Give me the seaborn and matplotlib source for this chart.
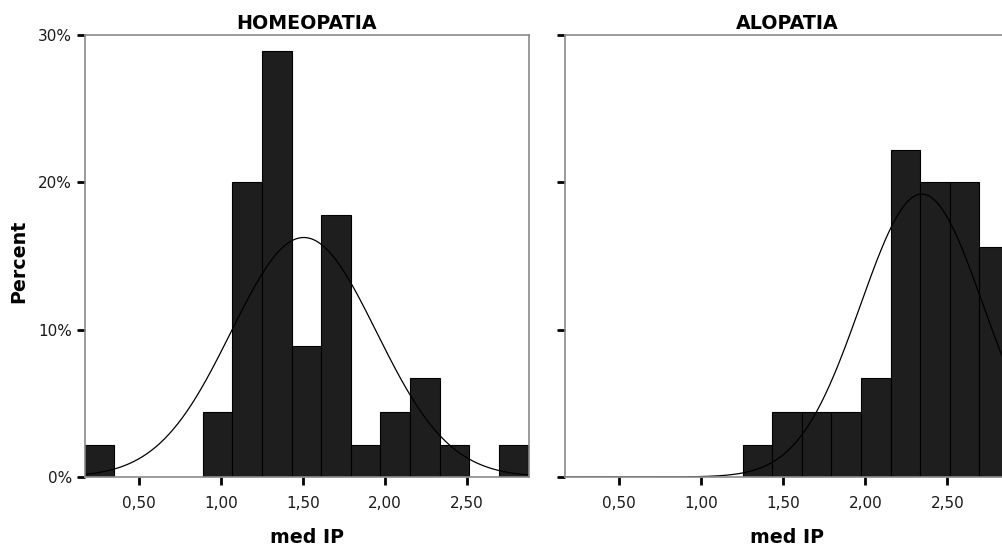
import numpy as np
import pandas as pd
import matplotlib
matplotlib.use("Agg")
import matplotlib.pyplot as plt
import seaborn as sns

# Histogram of "med IP" per treatment group (percent of cases per bin)
GROUPS = ["HOMEOPATIA", "ALOPATIA"]
HOMEO_PCT = [2.2, 0, 0, 0, 4.4, 20.0, 28.9, 8.9, 17.8, 2.2, 4.4, 6.7, 2.2, 0, 2.2]
ALO_PCT = [0, 0, 0, 0, 0, 0, 2.2, 4.4, 4.4, 4.4, 6.7, 22.2, 20.0, 20.0, 15.6]

# Fitted normal curves (mean, standard deviation) per group
HOMEO_NORMAL = (1.506, 0.443)
ALO_NORMAL = (2.345, 0.375)

BIN_START = 0.169
BIN_WIDTH = 0.1805
N_BINS = 15

X_TICKS = [0.5, 1.0, 1.5, 2.0, 2.5]
X_TICK_LABELS = ["0,50", "1,00", "1,50", "2,00", "2,50"]
Y_TICKS = [0, 10, 20, 30]
Y_TICK_LABELS = ["0%", "10%", "20%", "30%"]

sns.set_style("white")
plt.rcParams["font.family"] = ["DejaVu Sans"]
plt.rcParams["text.color"] = "black"
plt.rcParams["axes.labelcolor"] = "black"

W, H = 1002, 552
fig = plt.figure(figsize=(W / 100, H / 100), dpi=100)

edges = BIN_START + BIN_WIDTH * np.arange(N_BINS + 1)
centers = (edges[:-1] + edges[1:]) / 2
xlim = (edges[0], edges[-1])

spine_col = "#8a8a8a"
bar_col = "#1e1e1e"


def panel(left_px, pct, normal, title, show_ylabels):
    ax = fig.add_axes([left_px / W, (H - 477) / H, 444 / W, 442 / H])
    df = pd.DataFrame({"medIP": centers, "pct": pct})
    sns.histplot(data=df, x="medIP", weights="pct", bins=edges.tolist(), ax=ax,
                 color=bar_col, edgecolor="black", linewidth=0.8, alpha=1)
    for p in list(ax.patches):
        if p.get_height() == 0:
            p.remove()
    mu, sd = normal
    xs = np.linspace(xlim[0], xlim[1], 400)
    ys = 100 * BIN_WIDTH * np.exp(-0.5 * ((xs - mu) / sd) ** 2) / (sd * np.sqrt(2 * np.pi))
    ax.plot(xs, ys, color="black", lw=0.9)

    ax.set_xlim(*xlim)
    ax.set_ylim(0, 30)
    ax.set_xticks(X_TICKS)
    ax.set_xticklabels(X_TICK_LABELS)
    ax.set_yticks(Y_TICKS)
    if show_ylabels:
        ax.set_yticklabels(Y_TICK_LABELS)
    else:
        ax.set_yticklabels([])
    ax.tick_params(axis="both", direction="out", length=6, width=2, color="black",
                   labelsize=11, labelcolor="#1a1a1a", bottom=True, left=True)
    ax.tick_params(axis="x", pad=8)
    ax.tick_params(axis="y", pad=3)
    for s in ax.spines.values():
        s.set_visible(True)
        s.set_color(spine_col)
        s.set_linewidth(1.2)
    ax.set_title(title, fontsize=13.7, fontweight="bold", pad=4, color="black")
    ax.set_xlabel("med IP", fontsize=13.7, fontweight="bold", labelpad=12, color="black")
    ax.set_ylabel("")
    return ax


ax1 = panel(84.5, HOMEO_PCT, HOMEO_NORMAL, GROUPS[0], True)
ax2 = panel(565, ALO_PCT, ALO_NORMAL, GROUPS[1], False)

ax1.set_ylabel("Percent", fontsize=13.7, fontweight="bold", color="black")
ax1.yaxis.set_label_coords(-(84.5 - 28) / 444, (477 - 261) / 442)

fig.savefig("out.png", dpi=100, facecolor="white")
